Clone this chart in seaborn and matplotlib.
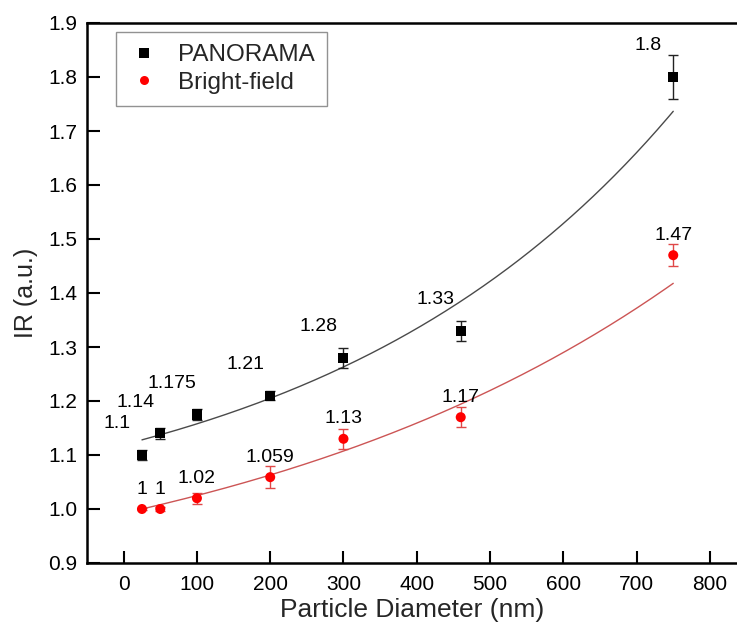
import numpy as np
import pandas as pd
import matplotlib
matplotlib.use("Agg")
import matplotlib.pyplot as plt
import seaborn as sns

# Measured intensity ratio vs particle diameter
diameter_nm = [25, 50, 100, 200, 300, 460, 750]
panorama_ir = [1.1, 1.14, 1.175, 1.21, 1.28, 1.33, 1.8]
panorama_err = [0.01, 0.01, 0.01, 0.008, 0.019, 0.018, 0.04]
brightfield_ir = [1.0, 1.0, 1.02, 1.059, 1.13, 1.17, 1.47]
brightfield_err = [0.002, 0.003, 0.01, 0.02, 0.018, 0.018, 0.02]
panorama_labels = ["1.1", "1.14", "1.175", "1.21", "1.28", "1.33", "1.8"]
brightfield_labels = ["1", "1", "1.02", "1.059", "1.13", "1.17", "1.47"]

# Exponential growth fits: y = y0 + A * exp(x / t)
panorama_fit = dict(y0=0.9486, A=0.1705, t=490.0)
brightfield_fit = dict(y0=0.7962, A=0.1961, t=650.0)

sns.set_theme(style="ticks")
plt.rcParams["font.family"] = ["Liberation Sans", "DejaVu Sans"]

fig = plt.figure(figsize=(7.37, 6.22), dpi=100)
ax = fig.add_axes([87 / 737, 59 / 622, 1 - 87 / 737, 540 / 622])

df = pd.DataFrame({
    "d": diameter_nm * 2,
    "ir": panorama_ir + brightfield_ir,
    "err": panorama_err + brightfield_err,
    "series": ["PANORAMA"] * len(diameter_nm) + ["Bright-field"] * len(diameter_nm),
})

xfit = np.linspace(diameter_nm[0], diameter_nm[-1], 300)
fits = pd.DataFrame({
    "d": np.concatenate([xfit, xfit]),
    "ir": np.concatenate([
        panorama_fit["y0"] + panorama_fit["A"] * np.exp(xfit / panorama_fit["t"]),
        brightfield_fit["y0"] + brightfield_fit["A"] * np.exp(xfit / brightfield_fit["t"]),
    ]),
    "series": ["PANORAMA"] * len(xfit) + ["Bright-field"] * len(xfit),
})

sns.lineplot(data=fits, x="d", y="ir", hue="series",
             palette={"PANORAMA": "#4a4a4a", "Bright-field": "#cc5555"},
             linewidth=1.0, legend=False, ax=ax, zorder=2)

err_colors = {"PANORAMA": "#222222", "Bright-field": "#e04848"}
for name, sub in df.groupby("series"):
    ax.errorbar(sub["d"], sub["ir"], yerr=sub["err"], fmt="none",
                ecolor=err_colors[name], elinewidth=1.0, capsize=3.6,
                capthick=1.0, zorder=3)

sns.scatterplot(data=df, x="d", y="ir", hue="series", style="series",
                hue_order=["PANORAMA", "Bright-field"],
                palette={"PANORAMA": "black", "Bright-field": "#ff0000"},
                markers={"PANORAMA": "s", "Bright-field": "o"},
                s=52, linewidth=0, ax=ax, zorder=4)

# value labels above each point
for x, y, lab in zip(diameter_nm, panorama_ir, panorama_labels):
    ax.annotate(lab, (x, y), xytext=(-25, 31), textcoords="offset pixels",
                ha="center", va="center", fontsize=14, color="black")
for x, y, lab in zip(diameter_nm, brightfield_ir, brightfield_labels):
    ax.annotate(lab, (x, y), xytext=(0, 20), textcoords="offset pixels",
                ha="center", va="center", fontsize=14, color="black")

ax.set_xlim(-50, 837)
ax.set_ylim(0.9, 1.9)
ax.set_xticks(range(0, 801, 100))
ax.set_yticks(np.arange(0.9, 1.91, 0.1))
ax.yaxis.set_major_formatter(matplotlib.ticker.FormatStrFormatter("%.1f"))
ax.tick_params(direction="in", length=9, width=1.5, labelsize=15,
               color="black", labelcolor="black")
ax.tick_params(axis="x", pad=9)
ax.tick_params(axis="y", pad=7)
ax.tick_params(top=False, right=False)
for side in ["left", "bottom", "top"]:
    ax.spines[side].set_linewidth(1.8)
    ax.spines[side].set_color("black")
ax.spines["right"].set_visible(False)

ax.set_xlabel("Particle Diameter (nm)", fontsize=19, labelpad=2.5)
ax.set_ylabel("IR (a.u.)", fontsize=18, labelpad=7)

handles, labels = ax.get_legend_handles_labels()
leg = ax.legend(handles, labels, loc="upper left",
                bbox_to_anchor=(29 / 650, 1 - 9 / 540), borderaxespad=0,
                fontsize=17.5, frameon=True, fancybox=False, edgecolor="#777777",
                handletextpad=0.74, borderpad=0.5, labelspacing=0.22,
                handlelength=1.3, markerscale=0.9)
leg.get_frame().set_linewidth(1.0)

fig.savefig("out.png", dpi=100)
